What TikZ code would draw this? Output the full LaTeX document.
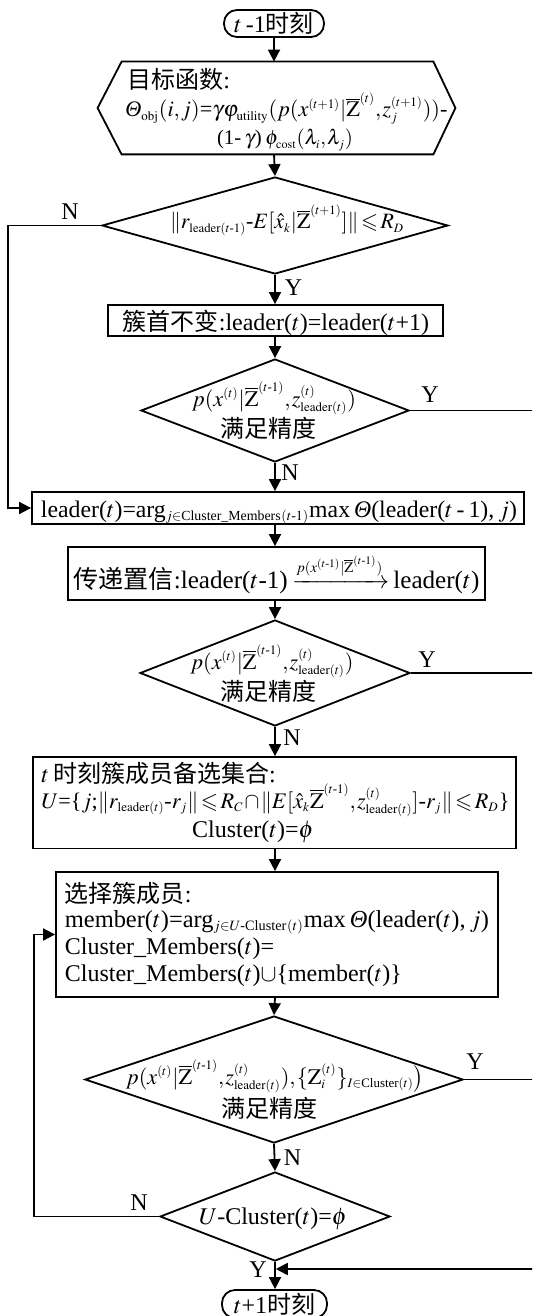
\documentclass[tikz,border=0pt]{standalone}
\usepackage{graphicx}
\usepackage{amsmath}
\usepackage{mathptmx}
\usepackage{amssymb}
\usepackage{fontspec}
\setmainfont{Liberation Serif}
\newfontfamily\cjk{Noto Sans CJK SC}
\usetikzlibrary{arrows.meta,shapes.geometric,calc}
\DeclareMathSizes{12}{12}{7}{5.5}
\newcommand{\zh}[1]{{\cjk #1}}
\newcommand{\Th}{\mbox{\itshape Θ}}
\newcommand{\ld}{\mathrm{leader}}
\newcommand{\Zb}{\overline{\mathrm{Z}}}
\newcommand{\hy}{\text{-}}
\newcommand{\fw}[2]{\resizebox{#1}{!}{#2}}
\newcommand{\tightmath}{\thinmuskip=1mu\medmuskip=1mu\thickmuskip=2mu}
\tikzset{
  base/.style={line width=0.9pt},
  arr/.style={base,-{Triangle[length=6pt,width=6pt]}},
  box/.style={draw,base,rectangle,inner sep=0pt},
  dia/.style={draw,base,diamond,inner sep=0pt},
  term/.style={draw,base,rectangle,rounded corners=6.5pt,inner sep=0pt},
  txt/.style={inner sep=0pt},
  lab/.style={inner sep=0pt},
}
\begin{document}
\begin{tikzpicture}[x=0.5pt,y=-0.5pt,every node/.style={font=\fontsize{12}{14.5}\selectfont\tightmath}]
\useasboundingbox (0,0) rectangle (532,1316);
\clip (0,0) rectangle (532,1316);

% start
\node[term,minimum width=50pt,minimum height=13.5pt] (start) at (274,23.5) {$t$\,-1\zh{时刻}};

% objective hexagon
\node[minimum width=155.5pt,minimum height=46pt,inner sep=0pt] (hex) at (277.5,108) {};
\draw[base] (hex.north west) -- (hex.north east) -- ($(hex.east)+(22,0)$) -- (hex.south east) -- (hex.south west) -- ($(hex.west)+(-24,0)$) -- cycle;
\node[txt,anchor=base west] (h1) at (127,89) {\zh{目标函数}:};
\node[txt,anchor=base west] (h2) at (125,117) {\fw{161pt}{$\Th_{\mathrm{obj}}(i,j)\text{=}\gamma\varphi_{\mathrm{utility}}(p(x^{(t+1)}|\Zb^{(t)},z_j^{(t+1)}))$-}};
\node[txt,anchor=base] (h3) at (285,145) {\fw{68pt}{(1-\,$\gamma$)\,$\phi_{\mathrm{cost}}(\lambda_i,\lambda_j)$}};

% decision 1
\node[dia,minimum width=173pt,minimum height=48.5pt] (d1) at (275,225.5) {};
\node[txt,anchor=base] (d1t) at (287,229) {\fw{117pt}{$\|r_{\ld(t\hy1)}\text{-}E[\hat{x}_k|\Zb^{(t+1)}]\|\leqslant R_D$}};

% box 1
\node[box,minimum width=167.5pt,minimum height=15.5pt] (b1) at (275.5,320.5) {};
\node[txt,anchor=base] (b1t) at (276,330) {\zh{簇首不变}:leader($t$)=leader($t$+1)};

% decision 2
\node[dia,minimum width=134pt,minimum height=51.5pt] (d2) at (275,410.5) {};
\node[txt,anchor=base] (d2a) at (274,406) {\fw{82pt}{$p(x^{(t)}|\Zb^{(t\hy1)},z^{(t)}_{\ld(t)})$}};
\node[txt,anchor=base] (d2b) at (268,437) {\zh{满足精度}};

% box 2
\node[box,minimum width=246pt,minimum height=16pt] (b2) at (278,508) {};
\node[txt,anchor=base] (b2t) at (279,517) {\fw{238pt}{leader($t$)=arg$_{j\in\text{Cluster\_Members}\,(t\hy1)}$max\,\Th(leader($t$\,-\,1),\,$j$)}};

% box 3
\node[box,minimum width=208.5pt,minimum height=26.5pt] (b3) at (276.5,573.5) {};
\node[txt,anchor=base] (b3t) at (276.5,588) {\fw{203pt}{\zh{传递置信}:leader($t$-1)\,$\xrightarrow{p(x^{(t\hy1)}|\Zb^{(t\hy1)})}$\,leader($t$)}};

% decision 3
\node[dia,minimum width=135pt,minimum height=53pt] (d3) at (275,673) {};
\node[txt,anchor=base] (d3a) at (272,669) {\fw{81.5pt}{$p(x^{(t)}|\Zb^{(t\hy1)},z^{(t)}_{\ld(t)})$}};
\node[txt,anchor=base] (d3b) at (268,700) {\zh{满足精度}};

% box 4
\node[box,minimum width=241.5pt,minimum height=45.75pt] (b4) at (274.5,802.75) {};
\node[txt,anchor=base west] (b4a) at (41,782) {$t$\,\zh{时刻簇成员备选集合}:};
\node[txt,anchor=base west] (b4b) at (41,808) {\fw{234pt}{$U$=\{$j$;$\|r_{\ld(t)}\text{-}r_j\|\leqslant R_C\cap\|E[\hat{x}_k\Zb^{(t\hy1)},z^{(t)}_{\ld(t)}]\text{-}r_j\|\leqslant R_D$\}}};
\node[txt,anchor=base] (b4c) at (253,837) {Cluster($t$)=$\phi$};

% box 5
\node[box,minimum width=221pt,minimum height=62.5pt] (b5) at (277,934.5) {};
\node[txt,anchor=base west] (b5a) at (64.5,902) {\zh{选择簇成员}:};
\node[txt,anchor=base west] (b5b) at (64.5,927) {\fw{212pt}{member($t$)=arg$_{j\in U\hy\text{Cluster}\,(t)}$max\,\Th(leader($t$),\,$j$)}};
\node[txt,anchor=base west] (b5c) at (64.5,954) {Cluster\_Members($t$)=};
\node[txt,anchor=base west] (b5d) at (64.5,981) {Cluster\_Members($t$)$\cup$\{member($t$)\}};

% decision 4
\node[dia,minimum width=189pt,minimum height=63.5pt] (d4) at (274,1079.5) {};
\node[txt,anchor=base] (d4a) at (275,1084) {\fw{149pt}{$p(x^{(t)}|\Zb^{(t\hy1)},z^{(t)}_{\ld(t)}),\{\mathrm{Z}_i^{(t)}\}_{I\in\text{Cluster}(t)}\big)$}};
\node[txt,anchor=base] (d4b) at (269,1117) {\zh{满足精度}};

% decision 5
\node[dia,minimum width=115pt,minimum height=44.5pt] (d5) at (275,1216.5) {};
\node[txt,anchor=base] (d5t) at (273,1224) {$U$-Cluster($t$)=$\phi$};

% end
\node[term,minimum width=52.5pt,minimum height=14pt] (end) at (274.5,1304) {$t$+1\zh{时刻}};

% labels
\node[lab] (l1) at (70,212) {N};
\node[lab] (l2) at (293.5,288) {Y};
\node[lab] (l3) at (430,395) {Y};
\node[lab] (l4) at (290,473) {N};
\node[lab] (l5) at (427,660) {Y};
\node[lab] (l6) at (292,738) {N};
\node[lab] (l7) at (475,1062) {Y};
\node[lab] (l8) at (292.5,1158) {N};
\node[lab] (l9) at (139,1203) {N};
\node[lab] (l10) at (258,1270) {Y};

% helper coordinates
\coordinate (L1) at (8,0);
\coordinate (L2) at (34,0);
\coordinate (R) at (540,0);
\coordinate (M) at (0,1269);

% main flow
\draw[arr] (start.south) -- (start.south |- hex.north);
\draw[arr] (start.south |- hex.south) -- (d1.north);
\draw[arr] (d1.south) -- (d1.south |- b1.north);
\draw[arr] (d1.south |- b1.south) -- (d2.north);
\draw[arr] (d2.south) -- (d2.south |- b2.north);
\draw[arr] (d2.south |- b2.south) -- (d2.south |- b3.north);
\draw[arr] (d3.north |- b3.south) -- (d3.north);
\draw[arr] (d3.south) -- (d3.south |- b4.north);
\draw[arr] (d3.south |- b4.south) -- (d3.south |- b5.north);
\draw[arr] (d3.south |- b5.south) -- (d4.north);
\draw[arr] (d4.south) -- (d5.north);
\draw[arr] (d5.south) -- (d5.south |- end.north);

% loops
\draw[arr] (d1.west) -- (d1.west -| L1) |- (b2.west);
\draw[arr] (d5.west) -- (d5.west -| L2) |- (b5.west);

% right-side Y returns
\draw[base] (d3.east) -- (d3.east -| R);
\draw[base] (d4.east) -- (d4.east -| R);
\draw[arr,shorten >=0.4pt] (d2.east) -- (d2.east -| R) -- (R |- M) -- (M -| d5.south);
\end{tikzpicture}
\end{document}
